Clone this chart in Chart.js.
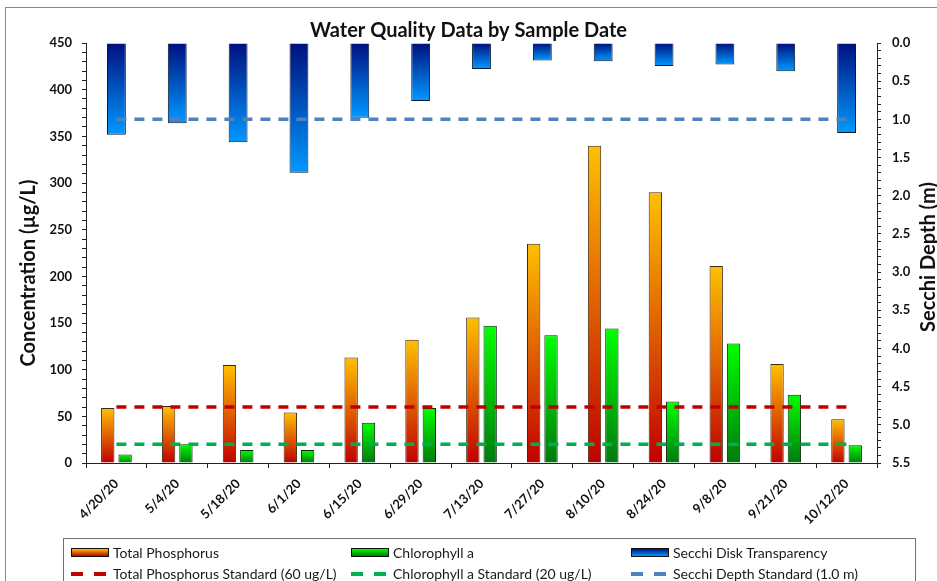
<!DOCTYPE html>
<html>
<head>
<meta charset="utf-8">
<script src="https://cdn.jsdelivr.net/npm/chart.js@4.4.0/dist/chart.umd.min.js"></script>
<style>
  body { margin: 0; background: #fff; overflow: hidden; font-family: Lato, "Noto Sans", sans-serif; }
  #frame { position: absolute; left: 5px; top: 7px; width: 1000px; height: 700px;
           border-left: 1px solid #8a8a8a; border-top: 1px solid #8a8a8a; }
  #wrap { position: absolute; left: 0; top: 0; width: 937px; height: 581px; }
  #legend { position: absolute; left: 63px; top: 538px; width: 853px; height: 60px;
            border: 1px solid #707070; border-bottom: none; box-sizing: border-box;
            display: grid; grid-template-columns: 280px 280px 280px; grid-auto-rows: 21px;
            padding: 3px 0 0 7px; }
  .item { display: flex; align-items: center; font-size: 14px; color: #1a1a1a; white-space: nowrap; }
  .sw { width: 38px; margin-right: 4px; box-sizing: border-box; flex: none; }
  .sw.bar { height: 9px; border: 1px solid #111; }
  .sw.line { height: 4px; }
</style>
</head>
<body>
<div id="frame"></div>
<div id="wrap"><canvas id="myChart" width="937" height="581"></canvas></div>
<div id="legend"></div>
<script>
// sample dates and measured values
var dates = ['4/20/20', '5/4/20', '5/18/20', '6/1/20', '6/15/20', '6/29/20', '7/13/20',
             '7/27/20', '8/10/20', '8/24/20', '9/8/20', '9/21/20', '10/12/20'];
var totalPhosphorus = [59, 61, 105, 54, 113, 132, 156, 235, 340, 290, 211, 106, 47];
var chlorophyllA = [9, 20, 14, 14, 43, 59, 147, 137, 144, 66, 128, 73, 19];
var secchiDepth = [1.2, 1.05, 1.3, 1.7, 0.98, 0.76, 0.34, 0.23, 0.24, 0.3, 0.28, 0.37, 1.18];

// standards
var tpStandard = [60, 60, 60, 60, 60, 60, 60, 60, 60, 60, 60, 60, 60];
var chlStandard = [20, 20, 20, 20, 20, 20, 20, 20, 20, 20, 20, 20, 20];
var secchiStandard = [1.0, 1.0, 1.0, 1.0, 1.0, 1.0, 1.0, 1.0, 1.0, 1.0, 1.0, 1.0, 1.0];

// axis ranges
var concRange = [0, 450];
var depthRange = [0, 5.5];

var tickFont = { family: 'Lato', size: 13, weight: 'bold' };

// vertical gradient for each bar, from its top edge to its bottom edge
function barGradient(axisId, top, bottom) {
  return function (c) {
    var chart = c.chart;
    if (!chart.chartArea || c.type !== 'data') return bottom;
    var s = chart.scales[axisId];
    var p1 = s.getPixelForValue(c.raw), p0 = s.getPixelForValue(0);
    var y0 = Math.min(p0, p1), y1 = Math.max(p0, p1);
    if (y1 - y0 < 1) y1 = y0 + 1;
    var g = chart.ctx.createLinearGradient(0, y0, 0, y1);
    g.addColorStop(0, top);
    g.addColorStop(1, bottom);
    return g;
  };
}

// both axis titles read bottom-to-top
function drawVTitle(ctx, text, x, y) {
  ctx.save();
  ctx.translate(x, y);
  ctx.rotate(-Math.PI / 2);
  ctx.font = 'bold 20px Lato';
  ctx.fillStyle = '#111';
  ctx.textAlign = 'center';
  ctx.textBaseline = 'middle';
  ctx.fillText(text, 0, 0);
  ctx.restore();
}
var axisTitles = {
  id: 'axisTitles',
  afterDraw: function (chart) {
    drawVTitle(chart.ctx, 'Concentration (µg/L)', 29, 273);
    drawVTitle(chart.ctx, 'Secchi Depth (m)', 929, 257);
  }
};

var ctx = document.getElementById('myChart').getContext('2d');
var chart = new Chart(ctx, {
  data: {
    labels: dates,
    datasets: [
      { type: 'bar', label: 'Total Phosphorus', data: totalPhosphorus, yAxisID: 'y', order: 2,
        backgroundColor: barGradient('y', '#FFC000', '#C00000'), borderColor: '#3a2a10', borderWidth: 1,
        categoryPercentage: 0.57, barPercentage: 0.77, swatch: ['#FFC000', '#C00000'] },
      { type: 'bar', label: 'Chlorophyll a', data: chlorophyllA, yAxisID: 'y', order: 2,
        backgroundColor: barGradient('y', '#00FF00', '#007A10'), borderColor: '#0a2a0a', borderWidth: 1,
        categoryPercentage: 0.57, barPercentage: 0.77, swatch: ['#00FF00', '#007A10'] },
      { type: 'bar', label: 'Secchi Disk Transparency', data: secchiDepth, yAxisID: 'y1', order: 2,
        grouped: false, categoryPercentage: 1, barPercentage: 0.31,
        backgroundColor: barGradient('y1', '#00107F', '#0099FF'), borderColor: '#0a1a33', borderWidth: 1,
        swatch: ['#00107F', '#0099FF'] },
      { type: 'line', label: 'Total Phosphorus Standard (60 ug/L)', data: tpStandard, yAxisID: 'y', order: 1,
        borderColor: '#C00000', borderWidth: 3.5, borderDash: [10, 8], pointRadius: 0, fill: false },
      { type: 'line', label: 'Chlorophyll a Standard (20 ug/L)', data: chlStandard, yAxisID: 'y', order: 1,
        borderColor: '#00B050', borderWidth: 3.5, borderDash: [10, 8], pointRadius: 0, fill: false },
      { type: 'line', label: 'Secchi Depth Standard (1.0 m)', data: secchiStandard, yAxisID: 'y1', order: 1,
        borderColor: '#4F81BD', borderWidth: 3.5, borderDash: [10, 8], pointRadius: 0, fill: false }
    ]
  },
  options: {
    responsive: false,
    animation: false,
    layout: { padding: 0 },
    plugins: {
      legend: { display: false },
      tooltip: { enabled: false },
      title: {
        display: true,
        text: 'Water Quality Data by Sample Date',
        color: '#111',
        font: { family: 'Lato', size: 20, weight: 'bold' },
        padding: { top: 19, bottom: 0 }
      }
    },
    scales: {
      x: {
        afterFit: function (s) { s.height = 118; },
        grid: { drawOnChartArea: false, tickLength: 5, color: '#222' },
        border: { color: '#222', width: 1 },
        ticks: { autoSkip: false, maxRotation: 45, minRotation: 45, padding: 8, color: '#111', font: tickFont }
      },
      y: {
        position: 'left',
        min: concRange[0], max: concRange[1],
        afterFit: function (s) { s.width = 86; },
        grid: { drawOnChartArea: false, tickLength: 4, color: '#222' },
        border: { color: '#222', width: 1 },
        ticks: {
          stepSize: 10, autoSkip: false, padding: 10, color: '#111', font: tickFont,
          callback: function (v) { return v % 50 === 0 ? v : ''; }
        }
      },
      y1: {
        position: 'right',
        reverse: true,
        min: depthRange[0], max: depthRange[1],
        afterFit: function (s) { s.width = 60; },
        grid: { drawOnChartArea: false, tickLength: 4, color: '#222' },
        border: { color: '#222', width: 1 },
        ticks: {
          stepSize: 0.1, autoSkip: false, padding: 11, color: '#111', font: tickFont,
          callback: function (v) { return Math.round(v * 10) % 5 === 0 ? v.toFixed(1) : ''; }
        }
      }
    }
  },
  plugins: [axisTitles]
});

// legend in three columns, built from the datasets
var legend = document.getElementById('legend');
chart.data.datasets.forEach(function (ds) {
  var item = document.createElement('div');
  item.className = 'item';
  var sw = document.createElement('div');
  if (ds.type === 'bar') {
    sw.className = 'sw bar';
    sw.style.background = 'linear-gradient(to bottom, ' + ds.swatch[0] + ', ' + ds.swatch[1] + ')';
  } else {
    sw.className = 'sw line';
    sw.style.background = 'repeating-linear-gradient(to right, ' + ds.borderColor + ' 0 12px, transparent 12px 23px)';
  }
  item.appendChild(sw);
  item.appendChild(document.createTextNode(ds.label));
  legend.appendChild(item);
});
</script>
</body>
</html>
